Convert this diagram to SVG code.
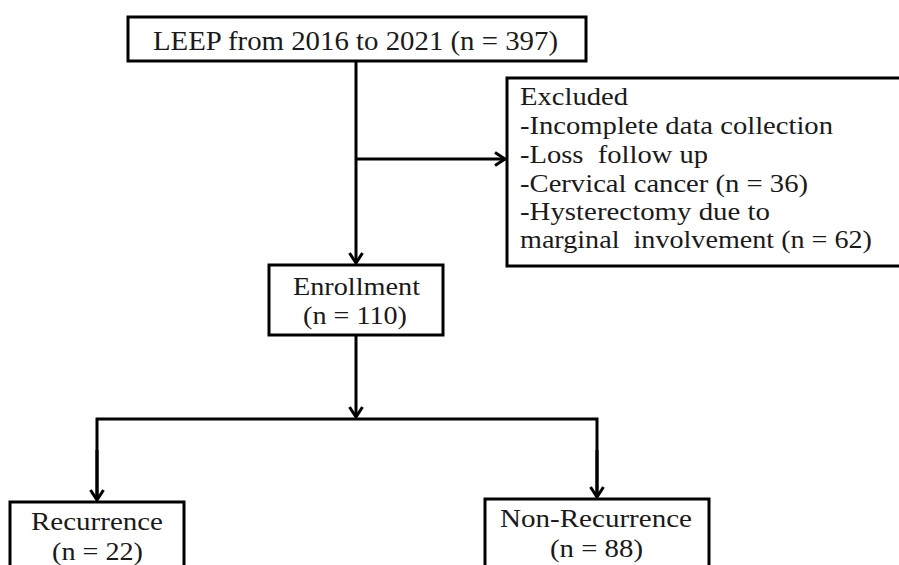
<svg xmlns="http://www.w3.org/2000/svg" width="899" height="565" viewBox="0 0 899 565">
<style>
.box{fill:#fff;stroke:#000;stroke-width:3}
text{font-family:'Liberation Serif','Times New Roman',serif;font-size:25px;fill:#1a1a1a}
.c{text-anchor:middle}
.ln{fill:none;stroke:#000;stroke-width:3}
</style>
<defs>
<marker id="arr" markerUnits="userSpaceOnUse" markerWidth="16" markerHeight="16" viewBox="-13 -8 16 16" refX="0" refY="0" orient="auto">
<path d="M-10,-6.5 L0,0 L-10,6.5" fill="none" stroke="#000" stroke-width="3"/>
</marker>
</defs>
<rect width="899" height="565" fill="#fff"/>
<g id="connectors">
<line class="ln" x1="356" y1="61" x2="356" y2="263" marker-end="url(#arr)"/>
<line class="ln" x1="356" y1="159" x2="505" y2="159" marker-end="url(#arr)"/>
<line class="ln" x1="356" y1="335" x2="356" y2="417" marker-end="url(#arr)"/>
<polyline class="ln" points="97,500 97,419 597,419 597,497"/>
<line class="ln" x1="97" y1="450" x2="97" y2="500" marker-end="url(#arr)"/>
<line class="ln" x1="597" y1="450" x2="597" y2="497" marker-end="url(#arr)"/>
</g>
<g id="leep">
<rect class="box" x="128" y="17" width="458" height="44"/>
<text x="153" y="50" textLength="405" lengthAdjust="spacingAndGlyphs" style="font-size:28px">LEEP from 2016 to 2021 (n = 397)</text>
</g>
<g id="excluded">
<rect class="box" x="507" y="78" width="400" height="188"/>
<text x="520" y="105" textLength="108" lengthAdjust="spacingAndGlyphs">Excluded</text>
<text x="520" y="134" textLength="313" lengthAdjust="spacingAndGlyphs">-Incomplete data collection</text>
<text x="520" y="163" textLength="188" lengthAdjust="spacingAndGlyphs" xml:space="preserve">-Loss  follow up</text>
<text x="520" y="192" textLength="288" lengthAdjust="spacingAndGlyphs">-Cervical cancer (n = 36)</text>
<text x="520" y="220" textLength="250" lengthAdjust="spacingAndGlyphs">-Hysterectomy due to</text>
<text x="520" y="248" textLength="352" lengthAdjust="spacingAndGlyphs" xml:space="preserve">marginal  involvement (n = 62)</text>
</g>
<g id="enrollment">
<rect class="box" x="269" y="265" width="174" height="70"/>
<text class="c" x="356.5" y="295" textLength="127" lengthAdjust="spacingAndGlyphs">Enrollment</text>
<text class="c" x="355" y="324" textLength="104" lengthAdjust="spacingAndGlyphs">(n = 110)</text>
</g>
<g id="recurrence">
<rect class="box" x="10" y="502" width="174" height="80"/>
<text class="c" x="97" y="530" textLength="132" lengthAdjust="spacingAndGlyphs">Recurrence</text>
<text class="c" x="97.5" y="560" textLength="91" lengthAdjust="spacingAndGlyphs">(n = 22)</text>
</g>
<g id="nonrecurrence">
<rect class="box" x="485" y="499" width="224" height="80"/>
<text class="c" x="596" y="527" textLength="192" lengthAdjust="spacingAndGlyphs">Non-Recurrence</text>
<text class="c" x="596.5" y="557" textLength="93" lengthAdjust="spacingAndGlyphs">(n = 88)</text>
</g>
</svg>
